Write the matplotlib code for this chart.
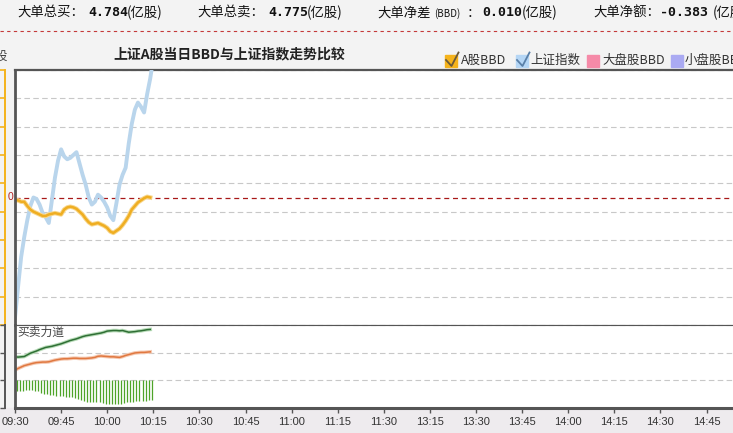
import numpy as np
import matplotlib
matplotlib.use('Agg')
import matplotlib.pyplot as plt
from matplotlib.patches import Rectangle
from matplotlib.lines import Line2D

plt.rcParams['font.family'] = ['Noto Sans CJK SC', 'DejaVu Sans']

W, H = 733, 433

# Summary row on top
summary_labels = ['大单总买：', '大单总卖：', '大单净差', '大单净额：']
summary_values = ['4.784', '4.775', '0.010', '-0.383']
summary_unit = '(亿股)'

# Minute index since 09:30 (trading minutes, lunch break removed)
tick_minutes = np.arange(0, 240, 15)
tick_labels = ['09:30', '09:45', '10:00', '10:15', '10:30', '10:45', '11:00', '11:15',
               '11:30', '13:15', '13:30', '13:45', '14:00', '14:15', '14:30', '14:45']

# 上证指数 (scaled to BBD panel)
index_line = [-8.5, -6.3, -4.2, -2.8, -1.6, -0.6, 0.0, -0.1, -0.5, -1.1,
              -1.4, -1.8, -0.2, 1.4, 2.6, 3.4, 2.9, 2.7, 2.8, 3.0,
              3.2, 2.4, 1.6, 0.9, 0.0, -0.5, -0.3, 0.2, 0.0, -0.3,
              -0.7, -1.3, -1.6, -0.4, 0.9, 1.6, 2.1, 3.8, 5.2, 6.2,
              6.7, 6.4, 6.0, 7.3, 8.4, 9.8]

# A股BBD
bbd_line = [-0.2, -0.2, -0.3, -0.3, -0.6, -0.85, -1.0, -1.1, -1.2, -1.3,
            -1.3, -1.2, -1.15, -1.1, -1.15, -1.2, -0.85, -0.7, -0.65, -0.7,
            -0.8, -1.0, -1.2, -1.5, -1.75, -1.9, -1.85, -1.8, -1.9, -2.0,
            -2.15, -2.4, -2.5, -2.35, -2.2, -1.95, -1.65, -1.3, -0.85, -0.6,
            -0.35, -0.2, -0.05, 0.05, 0.0]

# 买卖力道 panel
buy_line = [1.85, 1.84, 1.85, 1.86, 1.92, 1.98, 2.02, 2.06, 2.11, 2.15,
            2.19, 2.21, 2.23, 2.26, 2.29, 2.32, 2.36, 2.40, 2.44, 2.47,
            2.50, 2.54, 2.58, 2.61, 2.63, 2.65, 2.67, 2.69, 2.71, 2.74,
            2.78, 2.79, 2.80, 2.80, 2.79, 2.80, 2.77, 2.74, 2.75, 2.76,
            2.78, 2.79, 2.81, 2.83, 2.84]
sell_line = [1.37, 1.43, 1.48, 1.53, 1.56, 1.59, 1.62, 1.64, 1.65, 1.66,
             1.66, 1.67, 1.70, 1.73, 1.75, 1.77, 1.78, 1.78, 1.79, 1.80,
             1.80, 1.79, 1.79, 1.79, 1.80, 1.81, 1.83, 1.87, 1.88, 1.87,
             1.86, 1.85, 1.85, 1.84, 1.83, 1.86, 1.90, 1.93, 1.96, 1.99,
             2.00, 2.01, 2.01, 2.02, 2.03]
bar_bottom = [0.62, 0.60, 0.62, 0.64, 0.65, 0.65, 0.63, 0.60, 0.56, 0.52,
              0.50, 0.48, 0.47, 0.45, 0.44, 0.43, 0.41, 0.40, 0.38, 0.35,
              0.32, 0.28, 0.25, 0.22, 0.21, 0.20, 0.21, 0.20, 0.18, 0.16,
              0.15, 0.14, 0.13, 0.13, 0.15, 0.18, 0.20, 0.22, 0.22, 0.24,
              0.25, 0.26, 0.27, 0.28, 0.29]
bar_top = 1.0


def px(x, y):
    # pixel (from top-left) -> figure fraction
    return x / W, 1 - y / H


fig = plt.figure(figsize=(W / 100, H / 100), dpi=100, facecolor='#f3f3f3')
fig.patches.append(Rectangle((0, 0), 1, 25 / H, transform=fig.transFigure,
                             color='#eeebee', zorder=-1))

# top summary text
x_lab = [17, 197, 377, 593]
x_val = [88, 268, 482, 660]
x_unit = [127, 307, 522, 713]
for i in range(4):
    fig.text(*px(x_lab[i], 13), summary_labels[i], fontsize=9.6, color='#111', va='center')
    fig.text(*px(x_val[i], 13), summary_values[i], fontsize=9.5, fontweight='bold',
             family='DejaVu Sans Mono', color='#111', va='center')
    fig.text(*px(x_unit[i], 13), summary_unit, fontsize=9.6, color='#111', va='center')
fig.text(*px(434, 14), '(BBD)', fontsize=7, color='#111', va='center')
fig.text(*px(467, 13), '：', fontsize=9.6, color='#111', va='center')

fig.add_artist(Line2D([0, 1], [1 - 31 / H] * 2, transform=fig.transFigure,
                      color='#c43a3a', lw=0.8, ls=(0, (3, 3))))

# title
fig.text(*px(229, 54), '上证A股当日BBD与上证指数走势比较', fontsize=10, fontweight='bold',
         color='#222', ha='center', va='center')
fig.text(*px(7, 56), '股', fontsize=9, color='#444', ha='right', va='center')

# legend
legend_items = [('A股BBD', '#f5b31b', '#6b5a3a', 445, 461),
                ('上证指数', '#b5d6f5', '#5a80a8', 516, 530),
                ('大盘股BBD', '#f58aa8', None, 587, 602),
                ('小盘股BBD', '#aaaaf2', None, 671, 685)]
for name, fc, chk, bx, tx in legend_items:
    x0, y0 = px(bx, 67)
    fig.patches.append(Rectangle((x0, y0), 12 / W, 12 / H, transform=fig.transFigure,
                                 color=fc, zorder=2))
    if chk:
        xs, ys = zip(*[px(bx + 1, 60), px(bx + 6.5, 66), px(bx + 13.5, 52.5)])
        fig.add_artist(Line2D(xs, ys, transform=fig.transFigure, color=chk, lw=1.3,
                              zorder=10))
    fig.text(*px(tx, 60.5), name, fontsize=9, color='#333', va='center')

# main panel
ax = fig.add_axes([15 / W, 1 - 325 / H, 737.6 / W, 255 / H])
ax.set_facecolor('white')
x_idx = np.arange(len(index_line))
ax.plot(x_idx, index_line, color='#b9d5ec', lw=2.8, solid_joinstyle='round', zorder=3)
ax.plot(np.arange(len(bbd_line)), bbd_line, color='#f8d890', lw=3.2, zorder=3)
ax.plot(np.arange(len(bbd_line)), bbd_line, color='#efae22', lw=1.8, zorder=4)
ax.set_xlim(0, 240)
ax.set_ylim(-9, 9)
ax.set_yticks(np.arange(-9, 10, 2))
ax.yaxis.grid(True, color='#c8c8c8', lw=0.8, ls=(0, (5, 3)))
ax.set_axisbelow(True)
ax.axhline(0, color='#a81818', lw=0.9, ls=(0, (4, 3)), zorder=2)
ax.axvline(0, color='#555', lw=2, clip_on=False, zorder=5)
ax.set_xticks([])
ax.tick_params(axis='y', direction='out', length=3.6, width=1.2, color='#f5b31b',
               labelleft=False)
ax.spines['left'].set_position(('outward', 7.2))
ax.spines['left'].set_color('#f5b31b')
ax.spines['left'].set_linewidth(1.4)
ax.spines['right'].set_visible(False)
ax.spines['top'].set_color('#555')
ax.spines['top'].set_linewidth(1.6)
ax.spines['bottom'].set_color('#555')
ax.spines['bottom'].set_linewidth(0.8)
ax.text(-0.0105, 0, '0', transform=ax.get_yaxis_transform(), color='#b02020',
        fontsize=7.5, family='Liberation Sans', ha='left', va='center')

# lower panel
ax2 = fig.add_axes([15 / W, 25 / H, 737.6 / W, 83 / H])
ax2.set_facecolor('white')
ax2.set_xlim(0, 240)
ax2.set_ylim(0, 3)
ax2.set_yticks([0, 1, 2, 3])
ax2.yaxis.grid(True, color='#c8c8c8', lw=0.8, ls=(0, (5, 3)))
ax2.set_axisbelow(True)
bx_idx = np.arange(len(bar_bottom))
ax2.vlines(bx_idx + 0.5, bar_bottom, bar_top, color='#4ea428', lw=0.9)
ax2.plot(np.arange(len(buy_line)), buy_line, color='#b8dcb8', lw=2.6)
ax2.plot(np.arange(len(buy_line)), buy_line, color='#2f6f35', lw=1.1)
ax2.plot(np.arange(len(sell_line)), sell_line, color='#f5c8b0', lw=2.6)
ax2.plot(np.arange(len(sell_line)), sell_line, color='#e07840', lw=1.1)
ax2.text(0.9, 2.72, '买卖力道', fontsize=8.5, color='#444', va='center')
ax2.axvline(0, color='#555', lw=2, clip_on=False, zorder=5)
ax2.set_xticks(tick_minutes)
ax2.set_xticklabels(tick_labels, family='Liberation Sans', fontsize=8, color='#333')
ax2.tick_params(axis='x', direction='out', length=3.6, width=1, color='#555', pad=3)
ax2.tick_params(axis='y', direction='out', length=3.6, width=1, color='#555',
                labelleft=False)
ax2.spines['left'].set_position(('outward', 7.2))
ax2.spines['left'].set_color('#555')
ax2.spines['left'].set_linewidth(1.4)
ax2.spines['right'].set_visible(False)
ax2.spines['top'].set_color('#555')
ax2.spines['top'].set_linewidth(0.8)
ax2.spines['bottom'].set_color('#555')
ax2.spines['bottom'].set_linewidth(2.2)

fig.savefig('out.png', dpi=100, facecolor=fig.get_facecolor())
